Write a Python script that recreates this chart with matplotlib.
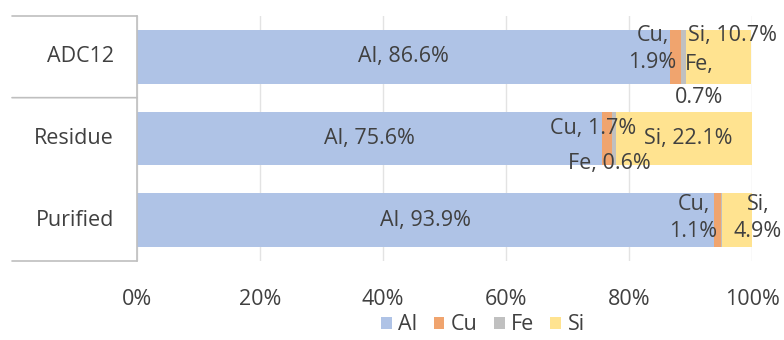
import matplotlib
matplotlib.use("Agg")
import matplotlib.pyplot as plt
import numpy as np

plt.rcParams['font.family'] = ['Open Sans', 'DejaVu Sans']

categories = ["ADC12", "Residue", "Purified"]
elements = ["Al", "Cu", "Fe", "Si"]
al = [86.6, 75.6, 93.9]
cu = [1.9, 1.7, 1.1]
fe = [0.7, 0.6, 0.1]
si = [10.7, 22.1, 4.9]
colors = ["#AFC3E6", "#F0A46E", "#C0C0C0", "#FFE390"]
tick_vals = [0, 20, 40, 60, 80, 100]
tick_labels = ["0%", "20%", "40%", "60%", "80%", "100%"]

series = [al, cu, fe, si]
txtc = "#404040"
fs = 15.5

fig = plt.figure(figsize=(7.84, 3.40), dpi=100)
ax = fig.add_axes([137/784, 1-261/340, 615/784, 245/340])

y = np.arange(len(categories))
left = np.zeros(len(categories))
for name, vals, c in zip(elements, series, colors):
    ax.barh(y, vals, left=left, height=0.66, color=c, label=name, zorder=2)
    left = left + np.array(vals)

ax.set_xlim(0, 100)
ax.set_ylim(2.5, -0.5)
ax.set_xticks(tick_vals)
ax.set_xticklabels(tick_labels, fontsize=fs, color=txtc)
ax.tick_params(axis='x', length=0, pad=20)
ax.set_yticks([])
for s in ["top", "right", "bottom", "left"]:
    ax.spines[s].set_visible(False)
ax.grid(axis='x', color="#E3E3E3", linewidth=1, zorder=0)

# category axis box
lc = "#BFBFBF"
ax.plot([0, 0], [-0.5, 2.5], color=lc, lw=1.2, zorder=3, clip_on=False)
for yy in [-0.5, 0.5, 2.5]:
    ax.annotate("", xy=(0, yy), xytext=(-125, 0), textcoords="offset pixels",
                arrowprops=dict(arrowstyle="-", color=lc, lw=1.2, shrinkA=0, shrinkB=0))
for i, cat in enumerate(categories):
    ax.annotate(cat, xy=(0, i), xytext=(-23, 0), textcoords="offset pixels",
                ha="right", va="center", fontsize=fs, color=txtc)

# Al labels centered
for i in range(3):
    ax.text(al[i] / 2, i, f"Al, {al[i]}%", ha="center", va="center",
            fontsize=fs, color=txtc, zorder=4)

def lab(text, x, yi, dx, dy, ha="center", ls=1.35):
    ax.annotate(text, xy=(x, yi), xytext=(dx, -dy), textcoords="offset pixels",
                ha=ha, va="center", fontsize=fs, color=txtc, linespacing=ls,
                multialignment="center", zorder=4, annotation_clip=False)

cu_start = np.array(al)
fe_start = cu_start + np.array(cu)
si_start = fe_start + np.array(fe)

# ADC12
lab(f"Cu,\n{cu[0]}%", cu_start[0], 0, -17, -8)
lab(f"Si, {si[0]}%", si_start[0], 0, 2, -21, ha="left")
lab(f"Fe,\n{fe[0]}%", fe_start[0], 0, 18, 24, ls=1.75)
# Residue
lab(f"Cu, {cu[1]}%", cu_start[1], 1, -9, -10)
lab(f"Si, {si[1]}%", si_start[1], 1, 72, 0)
lab(f"Fe, {fe[1]}%", fe_start[1], 1, -3, 25)
# Purified
lab(f"Cu,\n{cu[2]}%", cu_start[2], 2, -21, -2)
lab(f"Si,\n{si[2]}%", si_start[2], 2, 36, -2)

handles, labels = ax.get_legend_handles_labels()
fig.legend(handles, labels, loc="center", bbox_to_anchor=(0.616, 1-325/340),
           ncol=4, frameon=False, fontsize=fs, handlelength=0.5, handleheight=0.5,
           handletextpad=0.3, columnspacing=0.75, labelcolor=txtc)

fig.savefig("out.png", dpi=100)
